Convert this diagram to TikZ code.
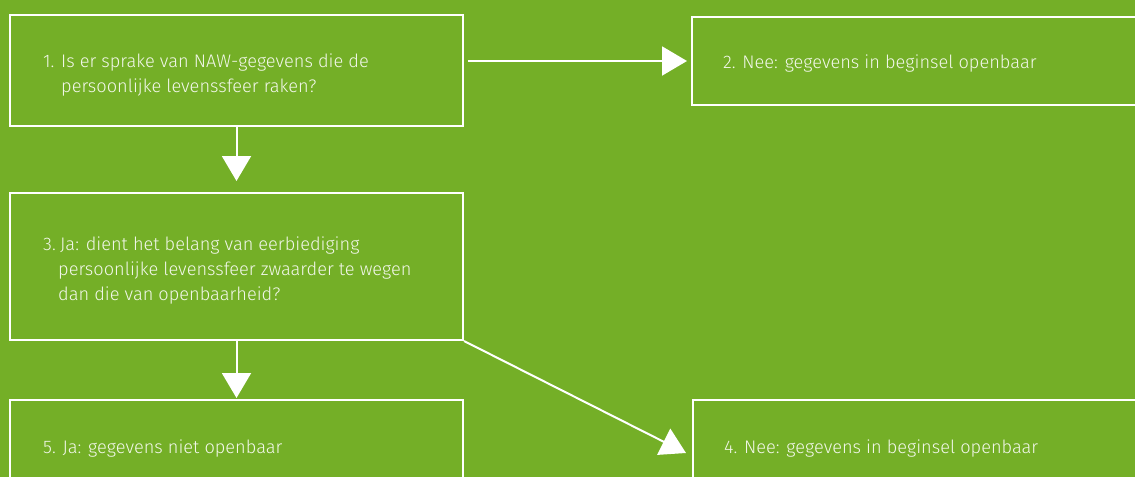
\documentclass[tikz,border=0pt]{standalone}
\usepackage{fontspec}
\setmainfont{Fira Sans Light}
\usetikzlibrary{arrows.meta,calc,positioning}
\definecolor{bggreen}{RGB}{116,175,39}
\definecolor{txtwhite}{RGB}{242,247,234}
\tikzset{
  box/.style={draw=white, line width=2pt, inner sep=0pt, anchor=north west},
  lbl/.style={anchor=base west, inner sep=0pt, text=txtwhite, font=\fontsize{18.2}{25}\selectfont, align=left},
  arr/.style={draw=white, line width=2pt, -{Triangle[length=25pt,width=29pt]}},
}
\begin{document}
\begin{tikzpicture}[x=1pt,y=-1pt]
\useasboundingbox (0,0) rectangle (1135,477);
\fill[bggreen] (0,0) rectangle (1135,477);
\clip (0,0) rectangle (1135,477);
\node[box, minimum width=453pt, minimum height=111pt] (b1) at (9,14) {};
\node[box, minimum width=460pt, minimum height=88pt] (b2) at (691,16) {};
\node[box, minimum width=453pt, minimum height=147pt] (b3) at (9,192) {};
\node[box, minimum width=453pt, minimum height=100pt] (b5) at (9,399) {};
\node[box, minimum width=460pt, minimum height=100pt] (b4) at (692,399) {};
\node[lbl] (t1) at (43,67) {\begin{tabular}[t]{@{}p{18pt}@{}l@{}}1.&Is er sprake van NAW-gegevens die de\\&persoonlijke levenssfeer raken?\end{tabular}};
\node[lbl] (t2) at (723,68) {2. Nee: gegevens in beginsel openbaar};
\node[lbl] (t3) at (43,250) {\begin{tabular}[t]{@{}p{15pt}@{}l@{}}3.&\hspace{2pt}Ja: dient het belang van eerbiediging\\&persoonlijke levenssfeer zwaarder te wegen\\&dan die van openbaarheid?\end{tabular}};
\node[lbl] (t5) at (43,453) {5. Ja: gegevens niet openbaar};
\node[lbl] (t4) at (724,453) {4. Nee: gegevens in beginsel openbaar};
\coordinate (d4) at ($(b4.north west)+(-6,54)$);
\draw[arr, shorten <=4pt, shorten >=4pt] (b1.east |- b2.west) -- (b2.west);
\draw[arr, shorten >=11pt] (b1.south) -- (b3.north);
\draw[arr, shorten >=1pt] (b3.south) -- (b5.north);
\draw[arr] (b3.south east) -- (d4);
\end{tikzpicture}
\end{document}
